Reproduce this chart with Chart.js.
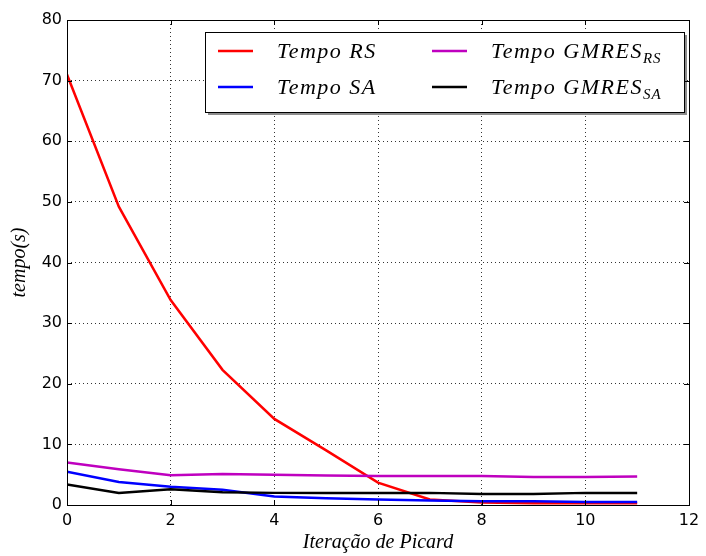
<!DOCTYPE html>
<html>
<head>
<meta charset="utf-8">
<script src="https://cdn.jsdelivr.net/npm/chart.js@4.4.1/dist/chart.umd.min.js"></script>
<style>
    html, body { margin: 0; padding: 0; background: #ffffff; }
    #wrap { width: 706px; height: 556px; }
</style>
</head>
<body>
<div id="wrap"><canvas id="grafiek"></canvas></div>
<script>
// Dados
const iteracoes = [0, 1, 2, 3, 4, 5, 6, 7, 8, 9, 10, 11];
const tempoRS = [71, 49.2, 33.8, 22.3, 14.2, 9.0, 3.7, 0.9, 0.4, 0.3, 0.3, 0.3];
const tempoSA = [5.5, 3.8, 3.0, 2.5, 1.4, 1.1, 0.9, 0.75, 0.6, 0.6, 0.5, 0.5];
const tempoGmresRS = [7.0, 5.9, 4.9, 5.1, 5.0, 4.85, 4.8, 4.8, 4.8, 4.6, 4.6, 4.7];
const tempoGmresSA = [3.4, 2.0, 2.6, 2.1, 2.0, 2.0, 2.0, 2.0, 1.8, 1.8, 2.0, 2.0];

const xTicks = [0, 2, 4, 6, 8, 10, 12];
const yTicks = [0, 10, 20, 30, 40, 50, 60, 70, 80];

function pontos(valores) {
    return iteracoes.map((x, i) => ({ x: x, y: valores[i] }));
}

function serie(label, valores, cor, ordem) {
    return {
        label: label,
        data: pontos(valores),
        borderColor: cor,
        backgroundColor: cor,
        borderWidth: 2.5,
        pointRadius: 0,
        tension: 0,
        order: ordem
    };
}

// Moldura e marcas internas (estilo matplotlib)
const molduraPlugin = {
    id: 'moldura',
    afterDatasetsDraw(chart) {
        const ctx = chart.ctx;
        const a = chart.chartArea;
        const xs = chart.scales.x, ys = chart.scales.y;
        ctx.save();
        ctx.strokeStyle = '#000';
        ctx.lineWidth = 1;
        ctx.beginPath();
        xTicks.forEach(v => {
            const px = Math.round(xs.getPixelForValue(v)) + 0.5;
            ctx.moveTo(px, a.bottom); ctx.lineTo(px, a.bottom - 5);
            ctx.moveTo(px, a.top); ctx.lineTo(px, a.top + 5);
        });
        yTicks.forEach(v => {
            const py = Math.round(ys.getPixelForValue(v)) + 0.5;
            ctx.moveTo(a.left, py); ctx.lineTo(a.left + 5, py);
            ctx.moveTo(a.right, py); ctx.lineTo(a.right - 5, py);
        });
        ctx.stroke();
        ctx.strokeRect(Math.round(a.left) + 0.5, Math.round(a.top) + 0.5,
            Math.round(a.right - a.left), Math.round(a.bottom - a.top));
        ctx.restore();
    }
};

// Legenda dentro do grafico, com subscritos
const legendaPlugin = {
    id: 'legenda',
    afterDraw(chart) {
        const ctx = chart.ctx;
        const caixa = { x: 205, y: 32, w: 479, h: 80 };
        ctx.save();
        ctx.fillStyle = 'rgba(0,0,0,0.45)';
        ctx.fillRect(caixa.x + 3, caixa.y + 3, caixa.w, caixa.h);
        ctx.fillStyle = '#fff';
        ctx.fillRect(caixa.x, caixa.y, caixa.w, caixa.h);
        ctx.strokeStyle = '#000';
        ctx.lineWidth = 1;
        ctx.strokeRect(caixa.x + 0.5, caixa.y + 0.5, caixa.w, caixa.h);

        const colunas = [218, 432];
        const linhas = [51, 87];
        chart.data.datasets.forEach((ds, i) => {
            const col = colunas[Math.floor(i / 2)];
            const lin = linhas[i % 2];
            ctx.strokeStyle = ds.borderColor;
            ctx.lineWidth = 2.5;
            ctx.beginPath();
            ctx.moveTo(col, lin);
            ctx.lineTo(col + 35, lin);
            ctx.stroke();

            const partes = ds.label.split('_');
            ctx.fillStyle = '#000';
            ctx.textBaseline = 'alphabetic';
            ctx.textAlign = 'left';
            ctx.letterSpacing = '1.5px';
            ctx.font = 'italic 22px "Liberation Serif"';
            const tx = col + 59;
            ctx.fillText(partes[0], tx, lin + 7);
            if (partes[1]) {
                const w = ctx.measureText(partes[0]).width;
                ctx.font = 'italic 15px "Liberation Serif"';
                ctx.letterSpacing = '1px';
                ctx.fillText(partes[1], tx + w, lin + 12);
            }
        });
        ctx.restore();
    }
};

const grade = {
    color: '#000',
    lineWidth: 0.8,
    drawTicks: false
};

new Chart(document.getElementById('grafiek'), {
    type: 'line',
    data: {
        datasets: [
            serie('Tempo RS', tempoRS, '#ff0000', 4),
            serie('Tempo SA', tempoSA, '#0000ff', 3),
            serie('Tempo GMRES_RS', tempoGmresRS, '#bf00bf', 2),
            serie('Tempo GMRES_SA', tempoGmresSA, '#000000', 1)
        ]
    },
    options: {
        responsive: true,
        maintainAspectRatio: false,
        animation: false,
        layout: { padding: { top: 20, right: 17, left: 0, bottom: 0 } },
        plugins: {
            legend: { display: false },
            tooltip: { enabled: false }
        },
        scales: {
            x: {
                type: 'linear',
                min: 0,
                max: 12,
                afterFit(scale) { scale.height = 51; },
                afterBuildTicks(scale) { scale.ticks = xTicks.map(v => ({ value: v })); },
                grid: Object.assign({}, grade, { borderDash: [1, 3] }),
                border: { display: false, dash: [1, 3] },
                ticks: {
                    color: '#000',
                    padding: 6,
                    font: { family: 'DejaVu Sans', size: 16 }
                },
                title: {
                    display: true,
                    text: 'Iteração de Picard',
                    color: '#000',
                    padding: { top: 0, bottom: 1 },
                    font: { family: 'Liberation Serif', style: 'italic', size: 20 }
                }
            },
            y: {
                min: 0,
                max: 80,
                afterFit(scale) { scale.width = 67; },
                afterBuildTicks(scale) { scale.ticks = yTicks.map(v => ({ value: v })); },
                grid: Object.assign({}, grade),
                border: { display: false, dash: [1, 3] },
                ticks: {
                    color: '#000',
                    padding: 5,
                    font: { family: 'DejaVu Sans', size: 16 }
                },
                title: {
                    display: true,
                    text: 'tempo(s)',
                    color: '#000',
                    padding: { top: 8, bottom: 0 },
                    font: { family: 'Liberation Serif', style: 'italic', size: 20 }
                }
            }
        }
    },
    plugins: [molduraPlugin, legendaPlugin]
});
</script>
</body>
</html>
